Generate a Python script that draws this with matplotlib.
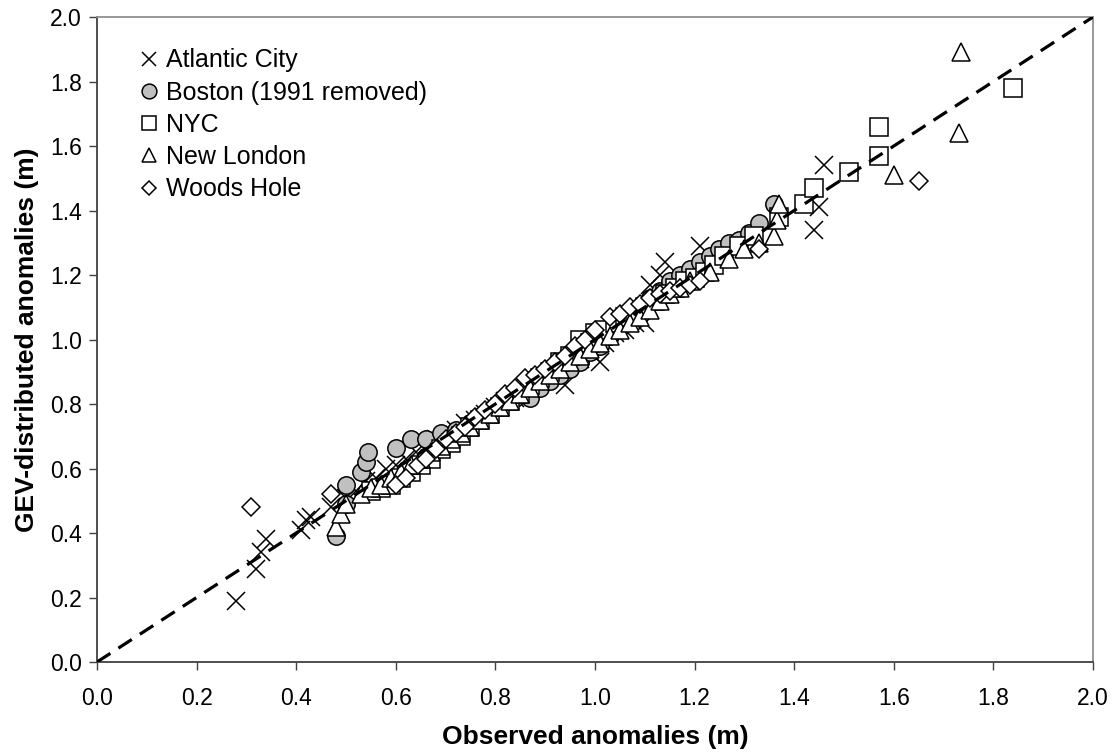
import matplotlib
matplotlib.use("Agg")
import matplotlib.pyplot as plt

plt.rcParams["font.family"] = ["Liberation Sans", "DejaVu Sans"]

# ── data (observed, GEV-distributed) ────────────────────────────────────────
atlantic_city = [
    (0.28, 0.19), (0.32, 0.29), (0.33, 0.34), (0.34, 0.38), (0.41, 0.41),
    (0.42, 0.44), (0.43, 0.45), (0.47, 0.48), (0.50, 0.51), (0.52, 0.53),
    (0.54, 0.56), (0.56, 0.57), (0.58, 0.60), (0.60, 0.61), (0.62, 0.63),
    (0.64, 0.65), (0.66, 0.67), (0.68, 0.69), (0.70, 0.70), (0.72, 0.72),
    (0.74, 0.74), (0.76, 0.75), (0.78, 0.77), (0.80, 0.79), (0.82, 0.81),
    (0.84, 0.82), (0.86, 0.84), (0.88, 0.86), (0.90, 0.87), (0.92, 0.89),
    (0.94, 0.86), (0.95, 0.93), (0.97, 0.94), (0.99, 0.96), (1.01, 0.93),
    (1.02, 0.99), (1.04, 1.02), (1.06, 1.03), (1.08, 1.05), (1.10, 1.05),
    (1.11, 1.17), (1.13, 1.20), (1.14, 1.24), (1.21, 1.29), (1.44, 1.34),
    (1.45, 1.41), (1.46, 1.54),
]
boston = [
    (0.48, 0.39), (0.50, 0.49), (0.50, 0.55), (0.53, 0.59), (0.54, 0.62),
    (0.545, 0.65), (0.60, 0.665), (0.63, 0.69), (0.66, 0.69), (0.69, 0.71),
    (0.72, 0.72), (0.75, 0.74), (0.78, 0.77), (0.81, 0.79), (0.84, 0.82),
    (0.87, 0.82), (0.89, 0.85), (0.91, 0.87), (0.93, 0.89), (0.95, 0.91),
    (0.97, 0.93), (0.99, 0.96), (1.01, 0.98), (1.03, 1.01), (1.05, 1.04),
    (1.07, 1.07), (1.09, 1.10), (1.11, 1.13), (1.13, 1.15), (1.15, 1.18),
    (1.17, 1.20), (1.19, 1.22), (1.21, 1.24), (1.23, 1.26), (1.25, 1.28),
    (1.27, 1.30), (1.29, 1.31), (1.31, 1.33), (1.33, 1.36), (1.36, 1.42),
]
nyc = [
    (0.55, 0.53), (0.57, 0.54), (0.59, 0.55), (0.61, 0.57), (0.63, 0.59),
    (0.65, 0.61), (0.67, 0.63), (0.69, 0.66), (0.71, 0.68), (0.73, 0.70),
    (0.75, 0.73), (0.77, 0.75), (0.79, 0.77), (0.81, 0.79), (0.83, 0.81),
    (0.85, 0.83), (0.87, 0.86), (0.89, 0.88), (0.91, 0.90), (0.93, 0.93),
    (0.95, 0.95), (0.97, 1.00), (0.99, 0.99), (1.00, 1.02), (1.02, 1.03),
    (1.04, 1.05), (1.06, 1.07), (1.08, 1.08), (1.10, 1.10), (1.12, 1.12),
    (1.14, 1.14), (1.16, 1.16), (1.18, 1.18), (1.20, 1.19), (1.22, 1.21),
    (1.24, 1.23), (1.26, 1.26), (1.29, 1.29), (1.32, 1.32), (1.37, 1.38),
    (1.42, 1.42), (1.44, 1.47), (1.51, 1.52), (1.57, 1.57), (1.57, 1.66),
    (1.84, 1.78),
]
new_london = [
    (0.48, 0.42), (0.49, 0.46), (0.50, 0.49), (0.53, 0.52), (0.55, 0.54),
    (0.57, 0.55), (0.59, 0.57), (0.61, 0.59), (0.63, 0.61), (0.65, 0.63),
    (0.67, 0.65), (0.69, 0.67), (0.71, 0.69), (0.73, 0.71), (0.75, 0.73),
    (0.77, 0.75), (0.79, 0.77), (0.81, 0.79), (0.83, 0.81), (0.85, 0.83),
    (0.87, 0.85), (0.89, 0.87), (0.91, 0.89), (0.93, 0.91), (0.95, 0.93),
    (0.97, 0.95), (0.99, 0.97), (1.01, 0.99), (1.03, 1.01), (1.05, 1.03),
    (1.07, 1.05), (1.09, 1.07), (1.11, 1.09), (1.13, 1.12), (1.15, 1.14),
    (1.17, 1.16), (1.19, 1.18), (1.23, 1.21), (1.27, 1.25), (1.30, 1.28),
    (1.33, 1.30), (1.36, 1.32), (1.365, 1.37), (1.37, 1.42), (1.60, 1.51),
    (1.73, 1.64), (1.735, 1.89),
]
woods_hole = [
    (0.31, 0.48), (0.47, 0.52), (0.60, 0.55), (0.62, 0.57), (0.645, 0.61),
    (0.66, 0.63), (0.68, 0.66), (0.70, 0.69), (0.72, 0.71), (0.74, 0.73),
    (0.76, 0.76), (0.78, 0.78), (0.80, 0.80), (0.82, 0.83), (0.84, 0.85),
    (0.86, 0.88), (0.88, 0.89), (0.90, 0.91), (0.92, 0.93), (0.94, 0.95),
    (0.96, 0.98), (0.98, 1.00), (1.00, 1.03), (1.03, 1.07), (1.05, 1.08),
    (1.07, 1.10), (1.09, 1.11), (1.11, 1.13), (1.13, 1.14), (1.15, 1.15),
    (1.17, 1.16), (1.19, 1.17), (1.21, 1.18), (1.33, 1.28), (1.65, 1.49),
]

SERIES = [
    ("Atlantic City",         atlantic_city, "x", "none",    12.5),
    ("Boston (1991 removed)", boston,        "o", "#C0C0C0", 12.5),
    ("NYC",                   nyc,           "s", "white",   12.5),
    ("New London",            new_london,    "^", "white",   12.5),
    ("Woods Hole",            woods_hole,    "D", "white",    8.8),
]

fig = plt.figure(figsize=(11.17, 7.56), dpi=100)
ax = fig.add_axes([0.0868, 0.1243, 0.8917, 0.8532])

for i, (name, pts, mk, fc, ms) in enumerate(SERIES):
    xs = [p[0] for p in pts]
    ys = [p[1] for p in pts]
    ax.plot(xs, ys, ls="none", marker=mk, ms=ms, mfc=fc, mec="black",
            mew=1.1, label=name, zorder=2 + i)

# 1:1 reference line
ax.plot([0, 2], [0, 2], color="black", lw=2.3, ls=(0, (5, 3)), zorder=10)

ax.set_xlim(0, 2)
ax.set_ylim(0, 2)
ticks = [0.0, 0.2, 0.4, 0.6, 0.8, 1.0, 1.2, 1.4, 1.6, 1.8, 2.0]
ax.set_xticks(ticks)
ax.set_yticks(ticks)
ax.set_xticklabels([f"{t:.1f}" for t in ticks])
ax.set_yticklabels([f"{t:.1f}" for t in ticks])
ax.tick_params(direction="out", length=6, width=1, colors="#404040",
               labelcolor="black", labelsize=16.5)
ax.tick_params(axis="x", pad=12)
ax.tick_params(axis="y", pad=5)

for side in ("left", "bottom"):
    ax.spines[side].set_color("#404040")
    ax.spines[side].set_linewidth(1.3)
for side in ("top", "right"):
    ax.spines[side].set_color("#909090")
    ax.spines[side].set_linewidth(1.3)

ax.set_xlabel("Observed anomalies (m)", fontsize=19, fontweight="bold", labelpad=11)
ax.set_ylabel("GEV-distributed anomalies (m)", fontsize=19, fontweight="bold", labelpad=8)

ax.legend(loc="upper left", bbox_to_anchor=(0.030, 0.967), frameon=False,
          fontsize=18, markerscale=0.85, handlelength=0.96, handletextpad=0.2,
          labelspacing=0.33, borderaxespad=0)

fig.savefig("out.png", dpi=100)
